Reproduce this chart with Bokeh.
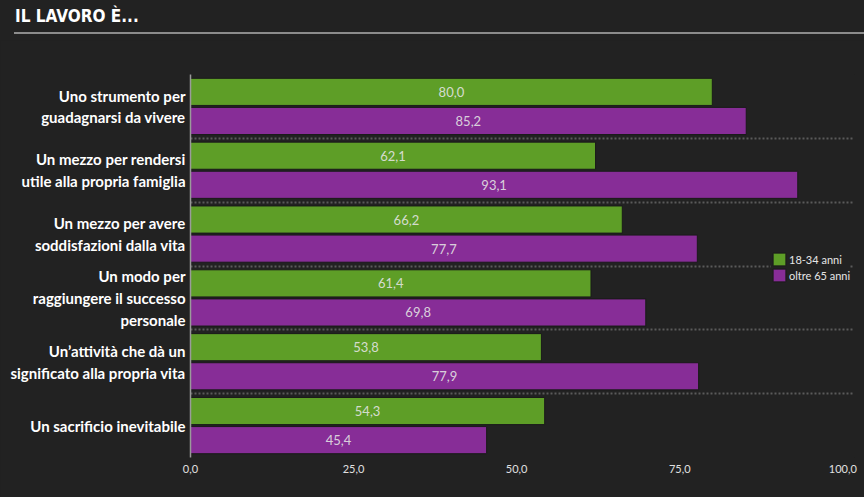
from bokeh.plotting import figure
from bokeh.layouts import column
from bokeh.models import (ColumnDataSource, FixedTicker, Range1d, Legend, LegendItem, Div)
from bokeh.core.properties import value
from bokeh.embed import file_html
from bokeh.resources import INLINE

# ---- data ----
categories = [
    "Uno strumento per\nguadagnarsi da vivere",
    "Un mezzo per rendersi\nutile alla propria famiglia",
    "Un mezzo per avere\nsoddisfazioni dalla vita",
    "Un modo per\nraggiungere il successo\npersonale",
    "Un\u2019attivit\u00e0 che d\u00e0 un\nsignificato alla propria vita",
    "Un sacrificio inevitabile",
]
series_names = ["18-34 anni", "oltre 65 anni"]
young = [80.0, 62.1, 66.2, 61.4, 53.8, 54.3]
old = [85.2, 93.1, 77.7, 69.8, 77.9, 45.4]
x_ticks = [0, 25, 50, 75, 100]
x_tick_labels = ["0,0", "25,0", "50,0", "75,0", "100,0"]
title_text = "IL LAVORO \u00c8..."

GREEN = "#5e9e27"
PURPLE = "#872d97"
BG = "#222222"
W = 864

# ---- title strip ----
title = Div(
    text=('<div style="margin-left:14px;width:850px;height:30px;padding-top:2px;line-height:28px;'
          'border-bottom:2px solid #8c8c8c;color:#ffffff;font-weight:bold;font-size:17px;'
          "font-family:'DejaVu Sans Condensed',sans-serif;box-sizing:content-box;"
          'padding-left:1px;">' + title_text + '</div>'),
    width=W, height=40, margin=0,
    styles={"background-color": BG},
)

# ---- main chart ----
n = len(categories)
ypos = [n - 1 - i for i in range(n)]
off = 0.228
bar_h = 0.425

def fmt(v):
    return f"{v:.1f}".replace(".", ",")

src_y = ColumnDataSource(dict(y=[q + off for q in ypos], v=young, mid=[v / 2 for v in young],
                              lab=[fmt(v) for v in young]))
src_o = ColumnDataSource(dict(y=[q - off for q in ypos], v=old, mid=[v / 2 for v in old],
                              lab=[fmt(v) for v in old]))

p = figure(width=W, height=457, output_backend="svg", toolbar_location=None,
           x_range=Range1d(0, 101.8), y_range=Range1d(-0.5, n - 0.5),
           min_border_left=190, min_border_right=10, min_border_top=34, min_border_bottom=40,
           background_fill_color=BG, border_fill_color=BG, outline_line_color=None)

r1 = p.hbar(y="y", right="v", left=0, height=bar_h, source=src_y, fill_color=GREEN,
            line_color="#1a1a1a", line_width=1)
r2 = p.hbar(y="y", right="v", left=0, height=bar_h, source=src_o, fill_color=PURPLE,
            line_color="#1a1a1a", line_width=1)

for s in (src_y, src_o):
    p.text(x="mid", y="y", text="lab", source=s, text_align="center", text_baseline="middle",
           text_color="#e4e4e4", text_alpha=0.9, text_font=value("Lato"), text_font_size="13px")

# axes
p.xaxis.ticker = FixedTicker(ticks=x_ticks)
p.xaxis.major_label_overrides = {tk: lb for tk, lb in zip(x_ticks, x_tick_labels)}
p.xaxis.axis_line_color = None
p.xaxis.major_tick_line_color = None
p.xaxis.major_tick_out = 0
p.xaxis.minor_tick_line_color = None
p.xaxis.major_label_text_color = "#e0e0e0"
p.xaxis.major_label_text_font = "Lato"
p.xaxis.major_label_text_font_size = "11px"
p.xaxis.major_label_standoff = 7

p.yaxis.ticker = FixedTicker(ticks=ypos)
p.yaxis.major_label_overrides = {yp: c for yp, c in zip(ypos, categories)}
p.yaxis.axis_line_color = "#9a9a9a"
p.yaxis.axis_line_width = 1.5
p.yaxis.major_tick_line_color = None
p.yaxis.major_tick_out = 0
p.yaxis.minor_tick_line_color = None
p.yaxis.major_label_text_color = "#ffffff"
p.yaxis.major_label_text_font = "Lato"
p.yaxis.major_label_text_font_style = "bold"
p.yaxis.major_label_text_font_size = "15px"
p.yaxis.major_label_standoff = 5

p.xgrid.grid_line_color = None
p.ygrid.ticker = FixedTicker(ticks=[yp - 0.5 for yp in range(n + 1)])
p.ygrid.grid_line_color = "#5a5a5a"
p.ygrid.grid_line_dash = "2 2"
p.ygrid.grid_line_width = 2

# legend
legend = Legend(items=[LegendItem(label=series_names[0], renderers=[r1]),
                       LegendItem(label=series_names[1], renderers=[r2])],
                location=(581, 174), background_fill_color=BG, background_fill_alpha=1,
                border_line_color=None,
                glyph_width=16, glyph_height=16, spacing=-3, padding=0, margin=0,
                label_text_font="Lato", label_text_font_size="11px",
                label_text_color="#e6e6e6", label_standoff=2, label_height=12)
p.add_layout(legend, "center")

layout = column(title, p, spacing=0)
html = file_html(layout, INLINE)
html = html.replace("<head>", "<head><style>body{background:#222222;}</style>", 1)
open("out.html", "w").write(html)
